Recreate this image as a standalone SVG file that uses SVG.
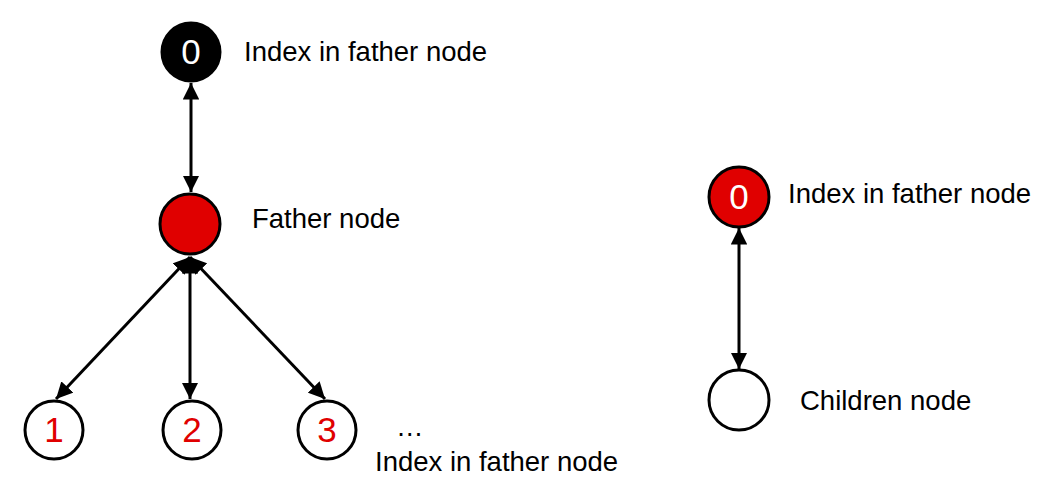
<svg xmlns="http://www.w3.org/2000/svg" width="1047" height="479" viewBox="0 0 1047 479">
<style>
.n{stroke:#000;stroke-width:3}
.lbl{font-family:"Liberation Sans",Arial,sans-serif;font-size:27.5px;fill:#000}
.num{font-family:"Liberation Sans",Arial,sans-serif;font-size:35px;text-anchor:middle}
.c{stroke:#000;stroke-width:3;fill:none;marker-start:url(#a);marker-end:url(#a)}
</style>
<defs>
<marker id="a" viewBox="0 0 10 10" refX="10" refY="5" markerWidth="5.5" markerHeight="5.5" orient="auto-start-reverse" markerUnits="strokeWidth">
<path d="M0,0 L10,5 L0,10 Z" fill="#000"/>
</marker>
</defs>
<rect width="1047" height="479" fill="#fff"/>
<g id="connectors">
<line class="c" x1="191" y1="83" x2="191" y2="192"/>
<line class="c" x1="190" y1="257" x2="56" y2="399"/>
<line class="c" x1="190" y1="257" x2="190" y2="399"/>
<line class="c" x1="190" y1="257" x2="325" y2="399"/>
<line class="c" x1="739" y1="228" x2="739" y2="369"/>
</g>
<g id="node-top">
<circle class="n" cx="191" cy="52" r="29" fill="#000"/>
<text class="num" x="191" y="64" fill="#fff">0</text>
<text class="lbl" x="244" y="61">Index in father node</text>
</g>
<g id="node-father">
<circle class="n" cx="190" cy="224" r="30" fill="#e00000"/>
<text class="lbl" x="252" y="228">Father node</text>
</g>
<g id="node-1">
<circle class="n" cx="54" cy="430" r="29" fill="#fff"/>
<text class="num" x="54" y="442" fill="#e00000">1</text>
</g>
<g id="node-2">
<circle class="n" cx="192" cy="430" r="29" fill="#fff"/>
<text class="num" x="192" y="442" fill="#e00000">2</text>
</g>
<g id="node-3">
<circle class="n" cx="327" cy="430" r="29" fill="#fff"/>
<text class="num" x="327" y="442" fill="#e00000">3</text>
</g>
<g id="children-label">
<text class="lbl" x="396" y="436">…</text>
<text class="lbl" x="375" y="471">Index in father node</text>
</g>
<g id="node-right-index">
<circle class="n" cx="739" cy="197" r="30" fill="#e00000"/>
<text class="num" x="739" y="209" fill="#fff">0</text>
<text class="lbl" x="788" y="203">Index in father node</text>
</g>
<g id="node-right-child">
<circle class="n" cx="739" cy="400" r="30" fill="#fff"/>
<text class="lbl" x="800" y="410">Children node</text>
</g>
</svg>
